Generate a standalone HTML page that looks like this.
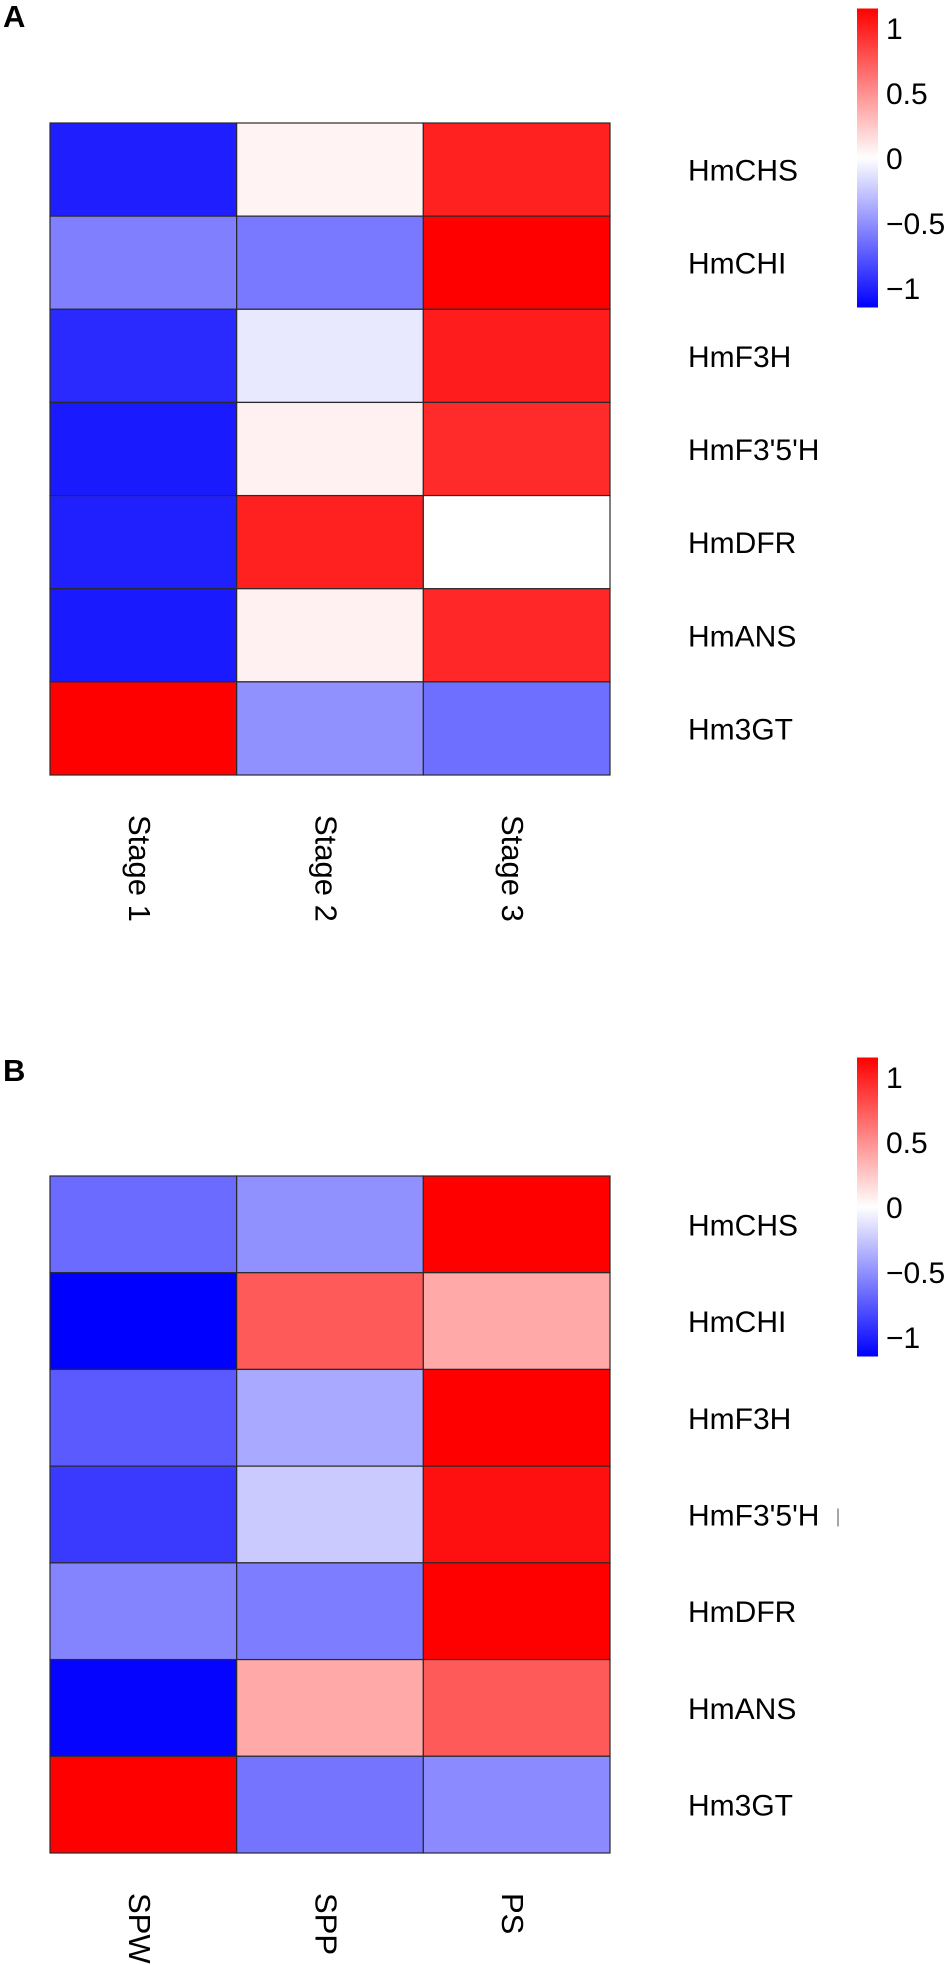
<!DOCTYPE html>
<html><head><meta charset="utf-8">
<style>
html,body{margin:0;padding:0;background:#fff;}
svg{display:block;font-family:"Liberation Sans",Arial,sans-serif;}
</style></head>
<body>
<svg id="fig" width="950" height="1965" viewBox="0 0 950 1965" xmlns="http://www.w3.org/2000/svg">
<defs>
<linearGradient id="cbar" x1="0" y1="1" x2="0" y2="0">
<stop offset="0" stop-color="#0000ff"/>
<stop offset="0.5" stop-color="#ffffff"/>
<stop offset="1" stop-color="#ff0000"/>
</linearGradient>
</defs>
</svg>
<script>
const genes = ["HmCHS","HmCHI","HmF3H","HmF3'5'H","HmDFR","HmANS","Hm3GT"];
const stageCols = ["Stage 1","Stage 2","Stage 3"];
const tissueCols = ["SPW","SPP","PS"];
const valuesA = [
  [-0.97, 0.05, 0.96],
  [-0.55, -0.58, 1.10],
  [-0.92, -0.10, 0.98],
  [-0.99, 0.06, 0.92],
  [-0.96, 0.96, 0.00],
  [-0.99, 0.06, 0.93],
  [1.10, -0.48, -0.62]
];
const valuesB = [
  [-0.64, -0.48, 1.10],
  [-1.10, 0.71, 0.37],
  [-0.71, -0.37, 1.10],
  [-0.85, -0.23, 1.03],
  [-0.53, -0.56, 1.10],
  [-1.08, 0.37, 0.71],
  [1.10, -0.60, -0.50]
];
const legendTicks = [1, 0.5, 0, -0.5, -1];
const legendTickLabels = ["1", "0.5", "0", "\u22120.5", "\u22121"];

const NS = "http://www.w3.org/2000/svg";
const svg = document.getElementById("fig");
const VMAX = 1.1;
function color(v){
  let t = Math.min(1, Math.abs(v)/VMAX);
  let c = Math.round(255*(1-t));
  return v >= 0 ? `rgb(255,${c},${c})` : `rgb(${c},${c},255)`;
}
function mk(tag, attrs, parent){
  const e = document.createElementNS(NS, tag);
  for (const k in attrs) e.setAttribute(k, attrs[k]);
  (parent||svg).appendChild(e);
  return e;
}
function panel(cfg){
  const g = mk("g", {});
  
  
  const nr = cfg.values.length, nc = cfg.cols.length;
  const cw = (cfg.x1 - cfg.x0)/nc, rh = (cfg.y1 - cfg.y0)/nr;
  const xs = j => cfg.x0 + j*cw;
  const ys = i => cfg.y0 + i*rh;
  // panel letter
  const L = mk("text", {x:3, y:cfg.letterY, "font-size":31, "font-weight":"bold", fill:"#000"}, g);
  L.textContent = cfg.letter;
  
  
  for (let i=0;i<nr;i++){
    for (let j=0;j<nc;j++){
      const r = mk("rect", {x:xs(j), y:ys(i), width:cw, height:rh, fill:color(cfg.values[i][j]), stroke:"#2a2a2a", "stroke-width":1.2}, g);
      
      
    }
    const t = mk("text", {x:688, y:ys(i)+rh/2+11, "font-size":30, fill:"#000"}, g);
    t.textContent = genes[i];
    
    
  }
  for (let j=0;j<nc;j++){
    const cx = xs(j)+cw/2 - 4;
    const t = mk("text", {x:0, y:0, "font-size":31, fill:"#000", "dominant-baseline":"central",
      transform:`translate(${cx},${cfg.y1+40}) rotate(90)`}, g);
    t.textContent = cfg.cols[j];
    
    
  }
  // legend
  const lg = mk("g", {}, g);
  
  
  const ly = v => cfg.legY1 - (v - (-1)) / 2 * (cfg.legY1 - cfg.legY0);
  const bar = mk("rect", {x:857, y:ly(1.15), width:21, height:ly(-1.15)-ly(1.15), fill:"url(#cbar)"}, lg);
  
  
  legendTicks.forEach((v,k)=>{
    const t = mk("text", {x:886, y:ly(v)+11, "font-size":30, fill:"#000"}, lg);
    t.textContent = legendTickLabels[k];
    
    
  });
  return {xs, ys, rh};
}
panel({name:"heatmap-a", letter:"A", letterY:27, values:valuesA, cols:stageCols, x0:50, x1:610, y0:123, y1:775, legY0:28, legY1:288});
const pb = panel({name:"heatmap-b", letter:"B", letterY:1081, values:valuesB, cols:tissueCols, x0:50, x1:610, y0:1176, y1:1853, legY0:1077, legY1:1337});
const mark = mk("line", {x1:838, x2:838, y1:pb.ys(3)+pb.rh/2-6, y2:pb.ys(3)+pb.rh/2+12, stroke:"#888", "stroke-width":1.5});


</script>
</body></html>
